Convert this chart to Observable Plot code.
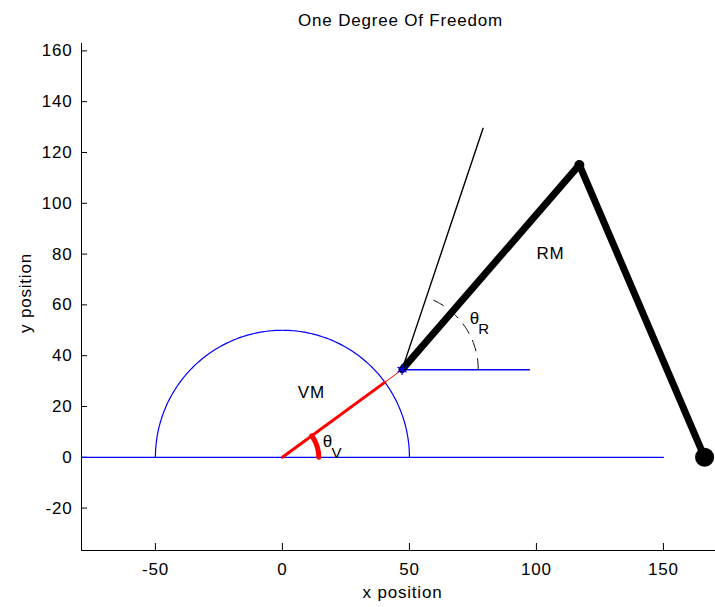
<!DOCTYPE html>
<html>
<head>
<meta charset="utf-8">
<script src="https://cdn.jsdelivr.net/npm/d3@7"></script>
<script src="https://cdn.jsdelivr.net/npm/@observablehq/plot@0.6"></script>
<style>
  html, body { margin: 0; padding: 0; background: #fff; }
  svg text { letter-spacing: 0.8px; }
</style>
</head>
<body>
<div id="chart"></div>
<script>
// ---- data ----
const xTicks = [-50, 0, 50, 100, 150];
const yTicks = [-20, 0, 20, 40, 60, 80, 100, 120, 140, 160];
const xDomain = [-79.1, 170.5];
const yDomain = [-36.7, 162.9];

// blue ground line (y = 0)
const groundLine = [[-79.1, 0], [150, 0]];
// blue semicircle of the virtual manipulator workspace
const vmCircle = {cx: 0, cy: 0, r: 50, a0: 0, a1: 180};
// red virtual manipulator (thick part inside circle, thin part beyond)
const vmThick = [[0, 0], [40.3, 29.5]];
const vmThin = [[40.3, 29.5], [47.1, 34.5]];
// theta_V arc (red)
const thetaVArc = {cx: 0, cy: 0, r: 14.3, a0: 0, a1: 36.2};
// real manipulator (thick black)
const rmLink = [[47.1, 34.5], [116.9, 115.1], [166.2, 0]];
const rmElbow = [[116.9, 115.1]];
const rmEnd = [[166.2, 0]];
// thin black reference line from the joint
const thinLine = [[47.1, 34.5], [79, 129.5]];
// blue horizontal reference at the joint
const jointLine = [[47.1, 34.5], [97.2, 34.5]];
const jointMark = [[47.1, 34.5]];
// theta_R dashed arc
const thetaRArc = {cx: 47.1, cy: 34.5, r: 30, a0: 0, a1: 71.4};

// labels
const labels = [
  {x: 11.4, y: 25.3, t: "VM"},
  {x: 105.5, y: 80.4, t: "RM"}
];
const thetaLabels = [
  {x: 17.9, y: 6.0, sub: "V"},
  {x: 75.8, y: 54.6, sub: "R"}
];

// build arc polylines from the read centre / radius / angles
function arcPoints(a) {
  const n = Math.max(2, Math.ceil(Math.abs(a.a1 - a.a0)));
  return d3.range(n + 1).map(i => {
    const ang = (a.a0 + (a.a1 - a.a0) * i / n) * Math.PI / 180;
    return [a.cx + a.r * Math.cos(ang), a.cy + a.r * Math.sin(ang)];
  });
}

const font = "'Liberation Sans', Arial, Helvetica, sans-serif";
const fs = 17;
const frameW = 715 - 81, frameH = 607 - 43 - 57;
const fmt = d => String(d);

const chart = Plot.plot({
  width: 715,
  height: 607,
  marginLeft: 81,
  marginRight: 0,
  marginTop: 43,
  marginBottom: 57,
  style: {fontFamily: font, fontSize: fs + "px", background: "#fff", overflow: "visible"},
  x: {domain: xDomain},
  y: {domain: yDomain},
  marks: [
    // axes
    Plot.ruleX([xDomain[0]], {stroke: "#000", strokeWidth: 1}),
    Plot.ruleY([yDomain[0]], {stroke: "#000", strokeWidth: 1}),
    Plot.tickX(xTicks, {x: d => d, insetTop: frameH - 7, stroke: "#000"}),
    Plot.tickY(yTicks, {y: d => d, insetRight: frameW - 6, stroke: "#000"}),
    Plot.axisX({ticks: xTicks, tickFormat: fmt, tickSize: 0, tickPadding: 12, label: null, fontSize: fs, fill: "#000"}),
    Plot.axisY({ticks: yTicks, tickFormat: fmt, tickSize: 0, tickPadding: 9, label: null, fontSize: fs, fill: "#000"}),
    // title and axis labels
    Plot.text(["One Degree Of Freedom"], {frameAnchor: "top", lineAnchor: "middle", textAnchor: "middle", dy: -23, dx: 2, fontSize: fs, fill: "#000"}),
    Plot.text(["x position"], {frameAnchor: "bottom", lineAnchor: "middle", textAnchor: "middle", dy: 42, dx: 4, fontSize: fs, fill: "#000"}),
    Plot.text(["y position"], {frameAnchor: "left", lineAnchor: "middle", textAnchor: "middle", dx: -56, dy: -4, rotate: -90, fontSize: fs, fill: "#000"}),

    // blue geometry
    Plot.line(groundLine, {x: d => d[0], y: d => d[1], stroke: "#0000ff", strokeWidth: 1.2}),
    Plot.line(arcPoints(vmCircle), {x: d => d[0], y: d => d[1], stroke: "#0000ff", strokeWidth: 1.2}),
    Plot.line(jointLine, {x: d => d[0], y: d => d[1], stroke: "#0000ff", strokeWidth: 1.5}),

    // red virtual manipulator
    Plot.line(vmThick, {x: d => d[0], y: d => d[1], stroke: "#ff0000", strokeWidth: 3}),
    Plot.line(vmThin, {x: d => d[0], y: d => d[1], stroke: "#ff0000", strokeWidth: 1}),
    Plot.line(arcPoints(thetaVArc), {x: d => d[0], y: d => d[1], stroke: "#ff0000", strokeWidth: 5, strokeLinecap: "round"}),

    // black real manipulator
    Plot.line(thinLine, {x: d => d[0], y: d => d[1], stroke: "#000", strokeWidth: 1.4}),
    Plot.line(arcPoints(thetaRArc), {x: d => d[0], y: d => d[1], stroke: "#000", strokeWidth: 1, strokeDasharray: "11,8"}),
    Plot.line(rmLink, {x: d => d[0], y: d => d[1], stroke: "#000", strokeWidth: 7, strokeLinejoin: "round"}),
    Plot.dot(rmElbow, {x: d => d[0], y: d => d[1], r: 5, fill: "#000"}),
    Plot.dot(rmEnd, {x: d => d[0], y: d => d[1], r: 9.5, fill: "#000"}),
    Plot.dot(jointMark, {x: d => d[0], y: d => d[1], r: 5, symbol: "asterisk", stroke: "#0000ff", strokeWidth: 1.2}),

    // text labels
    Plot.text(labels, {x: "x", y: "y", text: "t", fontSize: fs, fill: "#000"}),
    Plot.text(thetaLabels, {x: "x", y: "y", text: () => "θ", fontSize: fs, fill: "#000"}),
    Plot.text(thetaLabels, {x: "x", y: "y", text: "sub", fontSize: 15, fill: "#000", dx: 9, dy: 11})
  ]
});
document.getElementById("chart").appendChild(chart);
</script>
</body>
</html>
